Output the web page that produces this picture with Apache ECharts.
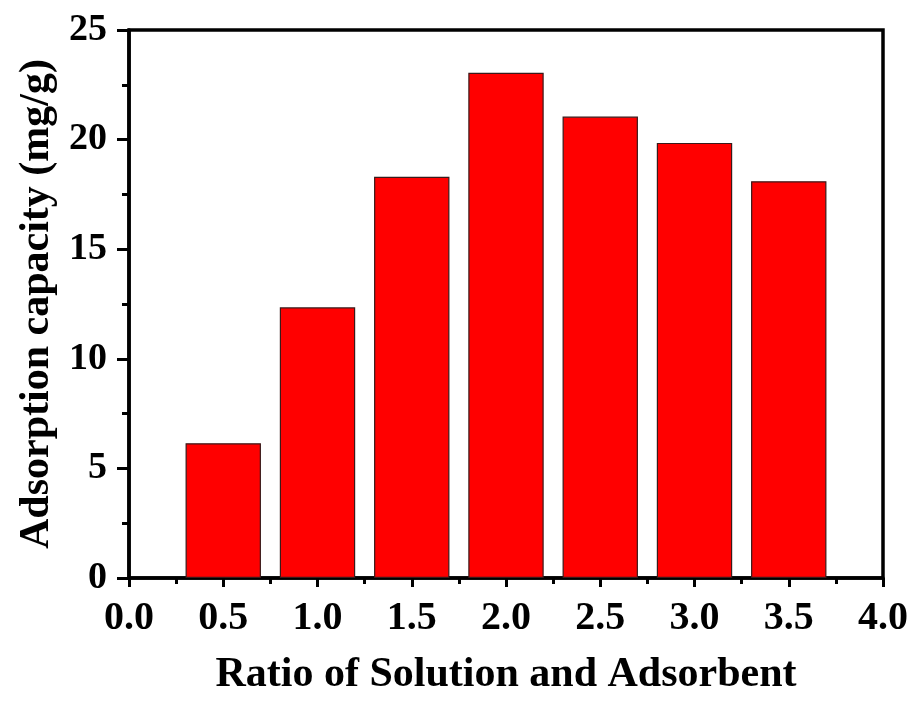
<!DOCTYPE html>
<html>
<head>
<meta charset="utf-8">
<script src="https://cdn.jsdelivr.net/npm/echarts@6/dist/echarts.min.js"></script>
<style>html,body{margin:0;padding:0;background:#fff;overflow:hidden}#c{width:912px;height:701px}</style>
</head>
<body>
<div id="c"></div>
<script>
var ratios = [0.5, 1.0, 1.5, 2.0, 2.5, 3.0, 3.5];
var capacity = [6.15, 12.35, 18.3, 23.05, 21.05, 19.85, 18.1];
var xTitle = 'Ratio of Solution and Adsorbent';
var yTitle = 'Adsorption capacity (mg/g)';

var FONT = '"Liberation Serif", "Times New Roman", serif';
var chart = echarts.init(document.getElementById('c'), null, {renderer: 'canvas', width: 912, height: 701});
var data = ratios.map(function (r, i) { return [r, capacity[i]]; });
chart.setOption({
  backgroundColor: '#fff',
  animation: false,
  grid: {left: 129, right: 29, top: 30, bottom: 115, show: true, borderColor: '#000', borderWidth: 3.5, backgroundColor: 'transparent'},
  xAxis: {
    type: 'value', min: 0, max: 4, interval: 0.5,
    name: xTitle, nameLocation: 'middle', nameGap: 76,
    nameTextStyle: {fontFamily: FONT, fontWeight: 'bold', fontSize: 42, color: '#000'},
    axisLine: {show: true, lineStyle: {color: '#000', width: 3.5}},
    axisTick: {show: true, length: 9, lineStyle: {color: '#000', width: 3}},
    minorTick: {show: true, splitNumber: 2, length: 6, lineStyle: {color: '#000', width: 3}},
    splitLine: {show: false},
    axisLabel: {fontFamily: FONT, fontWeight: 'bold', fontSize: 40, color: '#000', margin: 21,
      formatter: function (v) { return v.toFixed(1); }}
  },
  yAxis: {
    type: 'value', min: 0, max: 25, interval: 5,
    name: yTitle, nameLocation: 'middle', nameGap: 71,
    nameTextStyle: {fontFamily: FONT, fontWeight: 'bold', fontSize: 42, color: '#000'},
    axisLine: {show: true, lineStyle: {color: '#000', width: 3.5}},
    axisTick: {show: true, length: 12, lineStyle: {color: '#000', width: 3}},
    minorTick: {show: true, splitNumber: 2, length: 7, lineStyle: {color: '#000', width: 3}},
    splitLine: {show: false},
    axisLabel: {fontFamily: FONT, fontWeight: 'bold', fontSize: 38, color: '#000', margin: 22}
  },
  series: [{
    type: 'bar',
    data: data,
    barWidth: '80%',
    itemStyle: {color: '#ff0000', borderColor: '#3a1a1a', borderWidth: 1.2}
  }]
});
</script>
</body>
</html>
